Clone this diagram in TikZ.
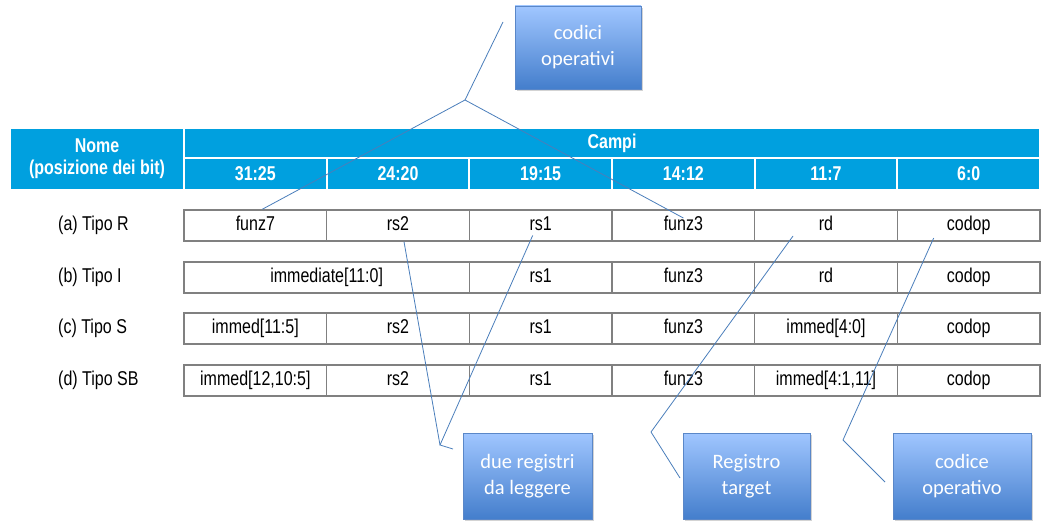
\documentclass[tikz,border=0pt]{standalone}
\usepackage{fontspec}
\setmainfont{Liberation Sans}
\newfontfamily\condfont[FakeStretch=0.8]{Liberation Sans}
\newfontfamily\callfont{Carlito}
\usetikzlibrary{shadows,calc}
\definecolor{hdr}{RGB}{0,160,223}
\definecolor{cellline}{RGB}{128,128,128}
\definecolor{conn}{RGB}{74,126,187}
\definecolor{boxtop}{RGB}{160,198,255}
\definecolor{boxbot}{RGB}{68,126,204}
\definecolor{boxline}{RGB}{90,135,200}
\begin{document}
\begin{tikzpicture}[x=1pt,y=-1pt,
  hcell/.style={draw=white, line width=2pt, fill=hdr, text=white, inner sep=0pt,
    font=\condfont\bfseries\fontsize{20}{22}\selectfont, align=center},
  fcell/.style={draw=cellline, line width=1.5pt, fill=white, inner sep=0pt,
    text height=14.5pt, text depth=4.5pt,
    minimum height=31pt, font=\condfont\fontsize{20}{22}\selectfont},
  rlabel/.style={anchor=west, inner sep=0pt, text height=14.5pt, text depth=4.5pt,
    font=\condfont\fontsize{20}{22}\selectfont},
  callout/.style={draw=boxline, line width=0.8pt, top color=boxtop, bottom color=boxbot,
    text=white, align=center, inner sep=0pt, font=\callfont\fontsize{20.5}{26}\selectfont,
    drop shadow={opacity=0.35, shadow xshift=1.5pt, shadow yshift=-2pt}},
  conn/.style={draw=conn, line width=0.8pt}]
\useasboundingbox (0,0) rectangle (1056,524);
\def\cw{142.67}
% header
\node[hcell, minimum width=175pt, minimum height=62pt] (nome) at (97,159) {Nome\\(posizione dei bit)};
\node[hcell, minimum width=856pt, minimum height=30pt] (campi) at (612,143) {Campi};
\foreach \i/\t in {0/31:25,1/24:20,2/19:15,3/14:12,4/11:7,5/6:0}
  \node[hcell, minimum width=\cw pt, minimum height=32pt] (h\i) at ({184+71.33+\cw*\i},174) {\t};
% rows
\foreach \r/\y in {a/225.5,b/277.5,c/328.5,d/380.5}
  \foreach \i in {1,...,6}
    \coordinate (\r\i c) at ({184+71.33+\cw*(\i-1)},\y);
% row a
\foreach \i/\t in {1/funz7,2/rs2,3/rs1,4/funz3,5/rd,6/codop}
  \node[fcell, minimum width=\cw pt] (a\i) at (a\i c) {\t};
% row b
\node[fcell, minimum width=285.33pt] (b12) at (326.67,277.5) {immediate[11:0]};
\foreach \i/\t in {3/rs1,4/funz3,5/rd,6/codop}
  \node[fcell, minimum width=\cw pt] (b\i) at (b\i c) {\t};
% row c
\foreach \i/\t in {1/{immed[11:5]},2/rs2,3/rs1,4/funz3,5/{immed[4:0]},6/codop}
  \node[fcell, minimum width=\cw pt] (c\i) at (c\i c) {\t};
% row d
\foreach \i/\t in {1/{immed[12,10:5]},2/rs2,3/rs1,4/funz3,5/{immed[4:1,11]},6/codop}
  \node[fcell, minimum width=\cw pt] (d\i) at (d\i c) {\t};
% row labels
\node[rlabel] (la) at (58,225.5) {(a) Tipo R};
\node[rlabel] (lb) at (58,277.5) {(b) Tipo I};
\node[rlabel] (lc) at (58,328.5) {(c) Tipo S};
\node[rlabel] (ld) at (58,380.5) {(d) Tipo SB};
% callouts
\node[callout, minimum width=126pt, minimum height=83pt] (cod) at (578,47.5) {codici\\operativi};
\node[callout, minimum width=129pt, minimum height=86pt] (due) at (527.5,476) {due registri\\da leggere};
\node[callout, minimum width=127pt, minimum height=86pt] (reg) at (746.5,476) {Registro\\target};
\node[callout, minimum width=138pt, minimum height=86pt] (cop) at (962,476) {codice\\operativo};
% connector points
\coordinate (k0) at (503,22);
\coordinate (kA) at (465,100);
\coordinate (pf7) at ($(a1.north)+(7,0)$);
\coordinate (pf3) at ($(a4.center)+(0,-7.5)$);
\coordinate (prs2) at ($(a2.south)+(6,0)$);
\coordinate (prs1) at ($(a3.center)+(-8,10)$);
\coordinate (kD) at (440,445);
\coordinate (kD2) at (453,449);
\coordinate (prd) at ($(a5.center)+(-33,10.5)$);
\coordinate (kR) at (651,432);
\coordinate (kR2) at (680,478);
\coordinate (pcd) at ($(a6.center)+(-35,12.5)$);
\coordinate (kC) at (843,440);
\coordinate (kC2) at (885,482);
% connectors
\draw[conn] (k0) -- (kA);
\draw[conn] (kA) -- (pf7);
\draw[conn] (kA) -- (pf3);
\draw[conn] (prs2) -- (kD);
\draw[conn] (prs1) -- (kD) -- (kD2);
\draw[conn] (prd) -- (kR) -- (kR2);
\draw[conn] (pcd) -- (kC) -- (kC2);
\end{tikzpicture}
\end{document}
